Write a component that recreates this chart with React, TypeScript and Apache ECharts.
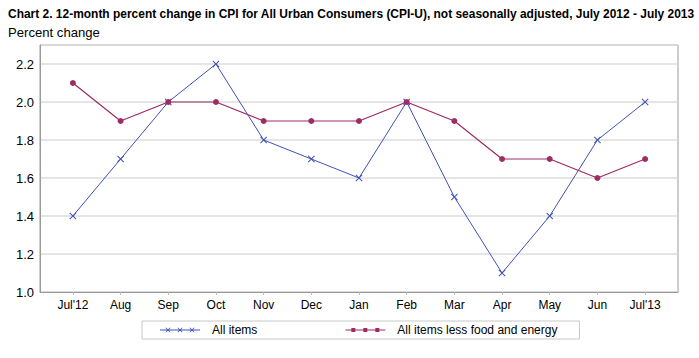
import React, { useEffect, useRef } from "react";
import * as echarts from "echarts";

const months = ["Jul'12", "Aug", "Sep", "Oct", "Nov", "Dec", "Jan", "Feb", "Mar", "Apr", "May", "Jun", "Jul'13"];
const allItems = [1.4, 1.7, 2.0, 2.2, 1.8, 1.7, 1.6, 2.0, 1.5, 1.1, 1.4, 1.8, 2.0];
const lessFoodEnergy = [2.1, 1.9, 2.0, 2.0, 1.9, 1.9, 1.9, 2.0, 1.9, 1.7, 1.7, 1.6, 1.7];
const seriesNames = ["All items", "All items less food and energy"];
const titleText = "Chart 2. 12-month percent change in CPI for All Urban Consumers (CPI-U), not seasonally adjusted, July 2012 - July 2013";
const subtitleText = "Percent change";

const BLUE = "#3f51b5";
const MAGENTA = "#9c2c62";
const FONT = "'Liberation Sans', Arial, sans-serif";

const crossSym = "path://M0 1L1 0L10 9L9 10Z M9 0L10 1L1 10L0 9Z";

function crossAt(cx: number, cy: number) {
  const a = 2.5, b = 2;
  return `M${cx - a} ${cy - b}L${cx - b} ${cy - a}L${cx + a} ${cy + b}L${cx + b} ${cy + a}Z ` +
    `M${cx + b} ${cy - a}L${cx + a} ${cy - b}L${cx - b} ${cy + a}L${cx - a} ${cy + b}Z`;
}
const blueIcon = "path://M0 3.6H40V4.4H0Z " + [8, 20, 32].map((c) => crossAt(c, 4)).join(" ");
const magIcon = "path://M0 3.5H40V4.5H0Z M6 2H10V6H6Z M18 2H22V6H18Z M30 2H34V6H30Z";

function measure(text: string, font: string) {
  const c = document.createElement("canvas").getContext("2d");
  if (!c) return text.length * 6;
  c.font = font;
  return c.measureText(text).width;
}

export default function App() {
  const ref = useRef<HTMLDivElement>(null);
  useEffect(() => {
    if (!ref.current) return;
    const chart = echarts.init(ref.current, null, { renderer: "svg" });
    const idx = months.map((_, i) => i);
    const titleFont = "bold 13px 'Liberation Sans', Arial, sans-serif";
    const subFont = "13px 'Liberation Sans', Arial, sans-serif";
    const titleScale = 687 / measure(titleText, titleFont);
    const subScale = 92 / measure(subtitleText, subFont);
    chart.setOption({
      animation: false,
      backgroundColor: "#ffffff",
      graphic: [
        {
          type: "text",
          x: 8,
          y: 14,
          scaleX: titleScale,
          style: { text: titleText, font: titleFont, fill: "#000", textVerticalAlign: "middle", verticalAlign: "middle" },
        },
        {
          type: "text",
          x: 8,
          y: 33,
          scaleX: subScale,
          style: { text: subtitleText, font: subFont, fill: "#000", textVerticalAlign: "middle", verticalAlign: "middle" },
        },
      ],
      grid: { left: 40, top: 45, right: 21, bottom: 66, show: true, borderColor: "#9a9a9a", borderWidth: 1 },
      xAxis: {
        type: "value",
        min: -0.69,
        max: 12.69,
        axisLine: { show: true, onZero: false, lineStyle: { color: "#9a9a9a" } },
        axisTick: { show: true, customValues: idx, length: 3, lineStyle: { color: "#bbb" } },
        axisLabel: {
          customValues: idx,
          formatter: (v: number) => months[Math.round(v)],
          fontFamily: FONT,
          fontSize: 12,
          color: "#000",
          margin: 7,
        },
        splitLine: { show: false },
      },
      yAxis: {
        type: "value",
        min: 1.0,
        max: 2.3,
        interval: 0.2,
        axisLine: { show: true, onZero: false, lineStyle: { color: "#9a9a9a" } },
        axisTick: { show: false },
        axisLabel: {
          showMaxLabel: false,
          formatter: (v: number) => v.toFixed(1),
          fontFamily: FONT,
          fontSize: 13,
          color: "#000",
          margin: 6,
        },
        splitLine: { show: true, lineStyle: { color: "#dcdcdc", width: 1.5 } },
      },
      legend: {
        left: 142,
        top: 321,
        orient: "horizontal",
        itemWidth: 40,
        itemHeight: 6,
        itemGap: 88,
        borderColor: "#c8c8c8",
        borderWidth: 1,
        padding: [3, 22, 3, 18],
        textStyle: { fontFamily: FONT, fontSize: 12, color: "#000", padding: [0, 0, 0, 7] },
        data: [
          { name: seriesNames[0], icon: blueIcon, itemStyle: { color: BLUE, borderWidth: 0 } },
          { name: seriesNames[1], icon: magIcon, itemStyle: { color: MAGENTA, borderWidth: 0 } },
        ],
      },
      series: [
        {
          name: seriesNames[0],
          type: "line",
          data: allItems.map((v, i) => [i, v]),
          symbol: crossSym,
          symbolSize: 7,
          lineStyle: { color: BLUE, width: 1 },
          itemStyle: { color: BLUE },
        },
        {
          name: seriesNames[1],
          type: "line",
          data: lessFoodEnergy.map((v, i) => [i, v]),
          symbol: "circle",
          symbolSize: 6,
          lineStyle: { color: MAGENTA, width: 1.2 },
          itemStyle: { color: MAGENTA },
        },
      ],
    });
    return () => chart.dispose();
  }, []);
  return <div ref={ref} style={{ width: 699, height: 358, position: "absolute", left: 0, top: 0 }} />;
}
